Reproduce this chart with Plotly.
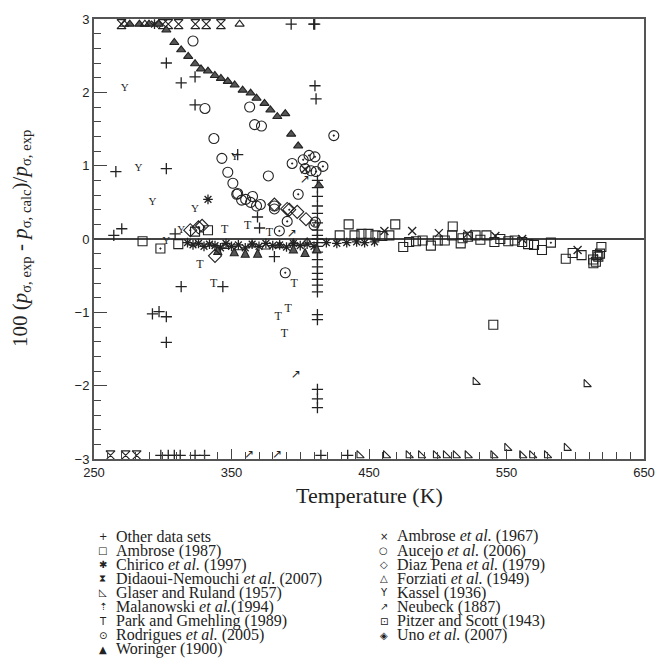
import plotly.graph_objects as go

# ---------------- data (T in K, deviation in %) ----------------
OTHER_T = [393.4, 409.8, 410.5, 265.9, 302.6, 302.6, 313.4, 323.5, 323.5, 264.4, 270.2, 309.0,
           313.4, 343.7, 354.5, 368.9, 370.4, 381.2, 410.7, 411.5, 292.5, 297.3, 302.6, 302.6,
           412.5, 412.5, 412.5, 412.5, 412.5, 412.5, 412.5, 412.5, 412.5, 412.5, 412.5, 412.5,
           412.5, 412.5, 412.5, 412.5, 412.5, 412.5, 412.5, 412.5, 412.5, 412.5, 412.5,
           298.6, 304.0, 308.4, 312.7, 323.5, 330.4, 415.0, 434.5]
OTHER_D = [2.93, 2.93, 2.93, 0.92, 0.96, 2.40, 2.13, 2.21, 1.83, 0.05, 0.14, 0.07,
           -0.65, -0.65, 1.15, 0.30, 0.15, -0.24, 2.09, 1.91, -1.02, -0.99, -1.06, -1.41,
           0.80, 0.70, 0.58, 0.45, 0.35, 0.22, 0.12, 0.05, 0.0, -0.05, -0.10, -0.18,
           -0.28, -0.38, -0.47, -0.55, -0.63, -0.72, -1.03, -1.10, -2.05, -2.18, -2.30,
           -2.95, -2.95, -2.95, -2.95, -2.95, -2.95, -2.95, -2.95]

AMBROSE87_T = [285.3, 311.3, 323.5, 332.9, 428.7, 435.2, 439.5, 444.5, 449.6, 454.7, 459.7, 464.8,
               469.1, 474.9, 479.2, 484.2, 489.0, 495.0, 500.0, 505.1, 510.9, 510.5, 516.7, 518.0,
               522.0, 527.5, 531.0, 535.4, 541.2, 545.5, 551.3, 556.0, 561.4, 565.7, 570.0, 575.8,
               593.1, 598.1, 604.6, 613.2, 615.0, 616.8, 619.0, 618.0, 540.4]
AMBROSE87_D = [-0.03, -0.07, 0.10, 0.12, 0.05, 0.20, 0.05, 0.07, 0.07, 0.05, 0.04, 0.05,
               0.20, -0.11, -0.04, -0.03, -0.02, -0.09, -0.02, -0.02, 0.17, 0.05, -0.06, 0.01,
               0.03, 0.05, -0.01, 0.05, -0.04, 0.0, -0.03, -0.02, -0.04, -0.07, -0.08, -0.15,
               -0.27, -0.19, -0.22, -0.33, -0.31, -0.24, -0.11, -0.20, -1.17]

CHIRICO_T = [294.0, 318.0, 322.0, 326.0, 330.0, 334.0, 338.0, 342.0, 346.0, 350.0, 355.0, 360.0,
             365.0, 370.0, 375.0, 380.0, 385.0, 390.0, 395.0, 400.0, 405.0, 410.0, 419.0, 426.6,
             433.8, 441.0, 446.8, 454.0, 332.9]
CHIRICO_D = [2.93, -0.05, -0.08, -0.06, -0.10, -0.07, -0.09, -0.12, -0.06, -0.10, -0.08, -0.12,
             -0.07, -0.10, -0.06, -0.09, -0.08, -0.11, -0.06, -0.09, -0.07, -0.10, -0.05, -0.06,
             -0.05, -0.04, -0.05, -0.04, 0.54]

DIDAOUI_T = [270.0, 300.0, 304.0, 311.5, 323.7, 331.6, 342.3, 262.0, 273.0, 281.0]
DIDAOUI_D = [2.93, 2.93, 2.93, 2.93, 2.93, 2.93, 2.93, -2.95, -2.95, -2.95]

GLASER_T = [443.0, 462.3, 478.8, 487.8, 498.6, 505.9, 513.1, 521.7, 540.4, 561.4, 568.6, 579.4,
            550.5, 593.8, 527.5, 608.2]
GLASER_D = [-2.95, -2.95, -2.95, -2.95, -2.95, -2.95, -2.95, -2.95, -2.95, -2.95, -2.95, -2.95,
            -2.85, -2.85, -1.95, -1.98]

MALANOWSKI_T = [340.0, 352.0, 360.0, 369.0, 395.0, 403.5, 412.0]
MALANOWSKI_D = [-0.10, -0.12, -0.14, -0.14, -0.08, -0.13, -0.08]

PARK_T = [327.0, 337.0, 395.6, 391.3, 384.0, 388.4, 361.7, 377.6, 345.0]
PARK_D = [-0.35, -0.62, -0.61, -0.96, -1.06, -1.30, 0.18, 0.08, 0.12]

RODRIGUES_T = [394.1, 402.1, 406.4, 410.7, 416.5, 403.5, 407.9, 411.5, 398.5, 424.4, 390.5, 384.8,
               389.1, 410.0, 411.0]
RODRIGUES_D = [1.03, 1.08, 1.14, 1.12, 0.99, 0.96, 0.93, 0.92, 0.61, 1.41, 0.24, 0.11,
               -0.46, 0.19, 0.23]

WORINGER_T = [276.0, 283.0, 290.0, 297.0, 302.6, 308.4, 313.4, 318.5, 323.5, 327.8, 332.9, 337.9,
              342.3, 347.3, 352.3, 358.1, 363.9, 368.2, 374.0, 378.3, 383.3, 389.1, 393.4, 398.5,
              413.6]
WORINGER_D = [2.93, 2.93, 2.93, 2.93, 2.85, 2.68, 2.58, 2.49, 2.39, 2.32, 2.29, 2.23,
              2.19, 2.15, 2.10, 2.03, 1.99, 1.92, 1.85, 1.76, 1.67, 1.71, 1.43, 1.27,
              0.73]

AMBROSE67_T = [461.2, 481.4, 500.8, 521.7, 541.9, 561.4, 601.7, 403.5]
AMBROSE67_D = [0.11, 0.11, 0.08, 0.07, 0.04, 0.0, -0.15, 0.95]

AUCEJO_T = [322.0, 330.7, 337.2, 343.0, 347.3, 351.0, 353.8, 354.5, 357.4, 360.3, 363.9, 365.3,
            368.2, 371.0, 363.2, 366.8, 371.8, 376.8, 381.2, 381.2]
AUCEJO_D = [2.70, 1.78, 1.37, 1.10, 0.91, 0.76, 0.61, 0.62, 0.53, 0.54, 0.50, 0.58,
            0.45, 0.47, 1.80, 1.56, 1.54, 0.86, 0.45, 0.41]

DIAZ_T = [338.0, 328.6, 390.5, 397.8, 404.2, 381.2]
DIAZ_D = [-0.23, 0.18, 0.41, 0.37, 0.27, 0.47]

FORZIATI_T = [272.0, 287.0, 355.9, 345.0, 355.0, 365.0, 375.0, 385.0, 395.0, 405.0]
FORZIATI_D = [2.93, 2.93, 2.93, -0.10, -0.12, -0.08, -0.11, -0.09, -0.06, -0.04]

KASSEL_T = [272.3, 282.4, 292.5, 313.4, 302.6, 323.5, 352.3]
KASSEL_D = [2.05, 0.96, 0.50, 0.12, -0.03, 0.41, 1.12]

NEUBECK_T = [403.5, 394.1, 397.0, 362.9, 383.3]
NEUBECK_D = [0.80, 0.07, -1.85, -2.95, -2.95]

PITZER_T = [298.3, 582.3, 613.0, 616.0]
PITZER_D = [-0.13, -0.05, -0.28, -0.22]

UNO_T = [320.0, 326.0, 392.0]
UNO_D = [0.12, 0.16, 0.40]

X_TICKS = [250, 350, 450, 550, 650]
Y_TICKS = [-3, -2, -1, 0, 1, 2, 3]

# ---------------- figure ----------------
INK = "#222222"
fig = go.Figure()


def add_marker(xs, ys, symbol, size=8, filled=False, lw=1.1):
    fig.add_trace(go.Scatter(
        x=xs, y=ys, mode="markers", showlegend=False, hoverinfo="skip",
        marker=dict(symbol=symbol, size=size, color="#555555" if filled else INK,
                    line=dict(color=INK, width=lw))))


def add_text(xs, ys, glyph, size=12, family="Liberation Serif"):
    fig.add_trace(go.Scatter(
        x=xs, y=ys, mode="text", text=[glyph] * len(xs), showlegend=False, hoverinfo="skip",
        textposition="middle center", textfont=dict(family=family, size=size, color=INK)))


add_marker(OTHER_T, OTHER_D, "cross-thin-open", 8, lw=1.3)
add_marker(AMBROSE87_T, AMBROSE87_D, "square-open", 9)
add_marker(CHIRICO_T, CHIRICO_D, "asterisk-open", 8, lw=1.3)
add_marker(DIDAOUI_T, DIDAOUI_D, "hourglass-open", 9)
add_marker(GLASER_T, GLASER_D, "triangle-sw-open", 8)
add_marker(MALANOWSKI_T, MALANOWSKI_D, "arrow-up", 8, filled=True)
add_text(PARK_T, PARK_D, "T", 12)
add_marker(RODRIGUES_T, RODRIGUES_D, "circle-open-dot", 10)
add_marker(WORINGER_T, WORINGER_D, "triangle-up", 8, filled=True)
add_marker(AMBROSE67_T, AMBROSE67_D, "x-thin-open", 8, lw=1.3)
add_marker(AUCEJO_T, AUCEJO_D, "circle-open", 10)
add_marker(DIAZ_T, DIAZ_D, "diamond-open", 10)
add_marker(FORZIATI_T, FORZIATI_D, "triangle-up-open", 8)
add_text(KASSEL_T, KASSEL_D, "Y", 11)
add_text(NEUBECK_T, NEUBECK_D, "↗", 12, family="DejaVu Sans")
add_marker(PITZER_T, PITZER_D, "square-open-dot", 9)
add_marker(UNO_T, UNO_D, "diamond-open-dot", 10)

# plot box in pixels
L, R, T_, B = 94, 652, 16, 459
W, H = 667, 660
PW, PH = R - L, B - T_


def px(xp):
    return (xp - L) / PW


def py(yp):
    return (B - yp) / PH


LEGEND_LEFT = [("+", "Other data sets"), ("□", "Ambrose (1987)"),
               ("✱", "Chirico <i>et al.</i> (1997)"), ("⧗", "Didaoui-Nemouchi <i>et al.</i> (2007)"),
               ("◺", "Glaser and Ruland (1957)"), ("⇡", "Malanowski <i>et al.</i>(1994)"),
               ("T", "Park and Gmehling (1989)"), ("⊙", "Rodrigues <i>et al.</i> (2005)"),
               ("▲", "Woringer (1900)")]
LEGEND_RIGHT = [("×", "Ambrose <i>et al.</i> (1967)"), ("○", "Aucejo <i>et al.</i> (2006)"),
                ("◇", "Diaz Pena <i>et al.</i> (1979)"), ("△", "Forziati <i>et al.</i> (1949)"),
                ("Y", "Kassel (1936)"), ("↗", "Neubeck (1887)"),
                ("⊡", "Pitzer and Scott (1943)"), ("◈", "Uno <i>et al.</i> (2007)")]

ann = []
row0, dy = 537, 14.2
for col, items in ((103, LEGEND_LEFT), (388, LEGEND_RIGHT)):
    for i, (g, label) in enumerate(items):
        yy = py(row0 + i * dy)
        ann.append(dict(x=px(col), y=yy, xref="paper", yref="paper", text=g, showarrow=False,
                        xanchor="center", yanchor="middle",
                        font=dict(family="DejaVu Sans", size=10, color=INK)))
        ann.append(dict(x=px(col + 11), y=yy, xref="paper", yref="paper", text=label,
                        showarrow=False, xanchor="left", yanchor="middle",
                        font=dict(family="Liberation Serif", size=16, color=INK)))

ann.append(dict(x=0.5, y=py(496), xref="paper", yref="paper", text="Temperature (K)",
                showarrow=False, xanchor="center", yanchor="middle",
                font=dict(family="Liberation Serif", size=22, color=INK)))
ann.append(dict(x=px(20), y=0.5, xref="paper", yref="paper", textangle=-90,
                text="100 (<i>p</i><sub>σ, exp</sub> - <i>p</i><sub>σ, calc</sub>)/<i>p</i><sub>σ, exp</sub>",
                showarrow=False, xanchor="center", yanchor="middle",
                font=dict(family="Liberation Serif", size=21, color=INK)))

axis_common = dict(showline=True, linecolor="#555555", linewidth=2, mirror=True,
                   showgrid=False, ticks="inside", tickcolor="#444444", tickwidth=1.3,
                   tickfont=dict(family="Liberation Sans", size=13, color=INK))

fig.update_layout(
    width=W, height=H, paper_bgcolor="white", plot_bgcolor="white",
    margin=dict(l=L, r=W - R, t=T_, b=H - B),
    xaxis=dict(range=[250, 650], tickvals=X_TICKS, ticklen=10,
               zeroline=False, minor=dict(dtick=10, ticks="inside", ticklen=7,
                                          tickcolor="#444444", tickwidth=1.1),
               **axis_common),
    yaxis=dict(range=[-3, 3], tickvals=Y_TICKS, ticklen=13, zeroline=True,
               zerolinecolor="#444444", zerolinewidth=1.6,
               minor=dict(dtick=0.2, ticks="inside", ticklen=7, tickcolor="#444444",
                          tickwidth=1.1),
               **axis_common),
    annotations=ann,
)

fig.write_html("out.html")
